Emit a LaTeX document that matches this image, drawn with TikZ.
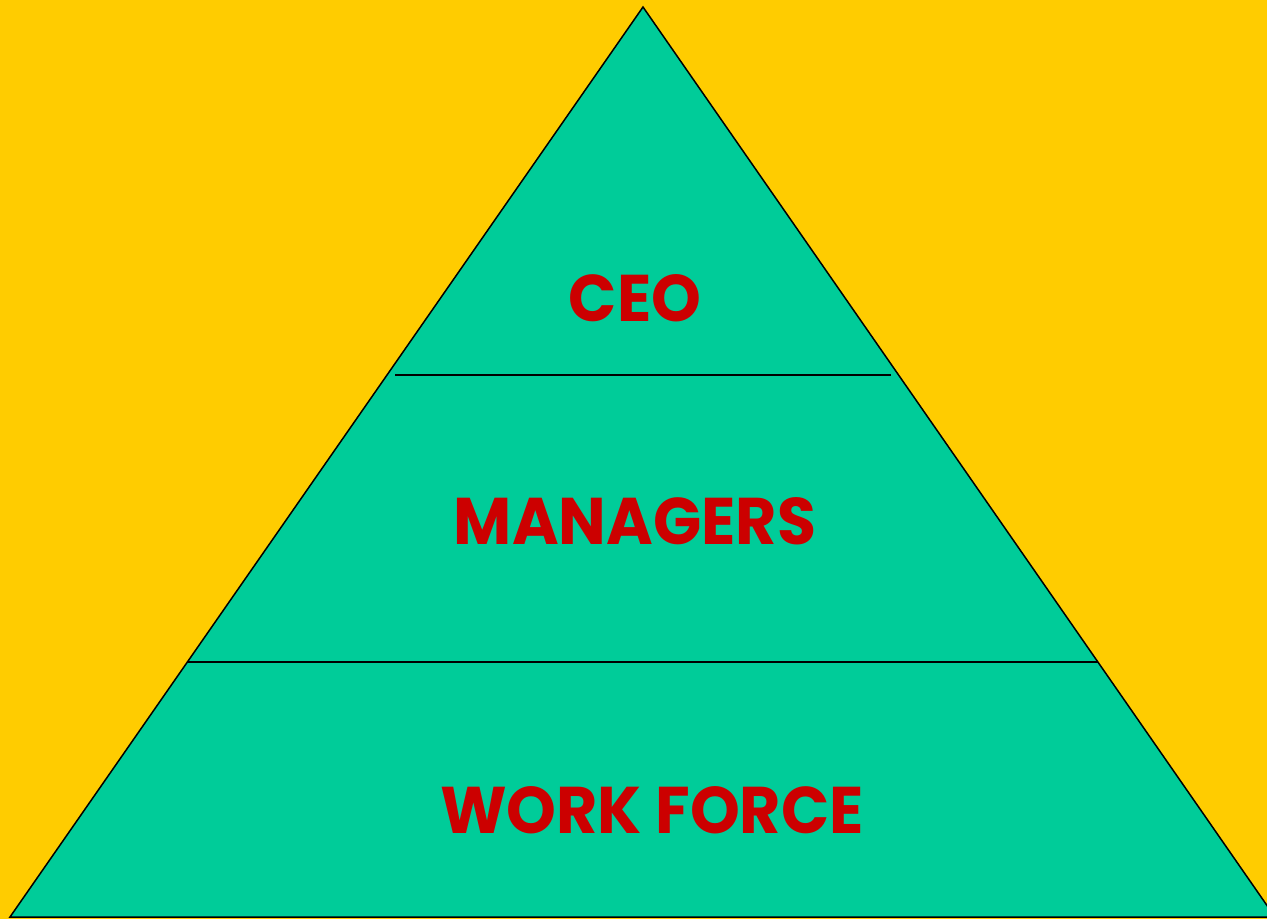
\documentclass[tikz,border=0pt]{standalone}
\usepackage{fontspec}
\setmainfont{Poppins}
\definecolor{bgyellow}{HTML}{FFCC00}
\definecolor{pyrgreen}{HTML}{00CC99}
\definecolor{txtred}{HTML}{CC0000}
\begin{document}
\begin{tikzpicture}[x=1pt,y=-1pt,
  label/.style={text=txtred,font=\fontsize{66}{70}\selectfont\bfseries,inner sep=0pt,anchor=base,xscale=0.96}]
\fill[bgyellow] (0,0) rectangle (1267,919);
\useasboundingbox (0,0) rectangle (1267,919);
\coordinate (apex) at (643,7);
\coordinate (bl) at (10,917);
\coordinate (br) at (1275,917);
\begin{scope}
\clip (0,0) rectangle (1267,919);
\filldraw[fill=pyrgreen,draw=black,line width=1.5pt,line join=miter] (apex) -- (br) -- (bl) -- cycle;
\end{scope}
\coordinate (l1a) at (395,375);
\coordinate (l1b) at (891,375);
\coordinate (l2a) at (188,662);
\coordinate (l2b) at (1098,662);
\draw[line width=1.2pt] (l1a) -- (l1b);
\draw[line width=1.2pt] (l2a) -- (l2b);
\node[label] (ceo) at (635,321) {CEO};
\node[label] (mgr) at (635,544) {MANAGERS};
\node[label] (wf) at (652,833) {WORK FORCE};
\end{tikzpicture}
\end{document}
